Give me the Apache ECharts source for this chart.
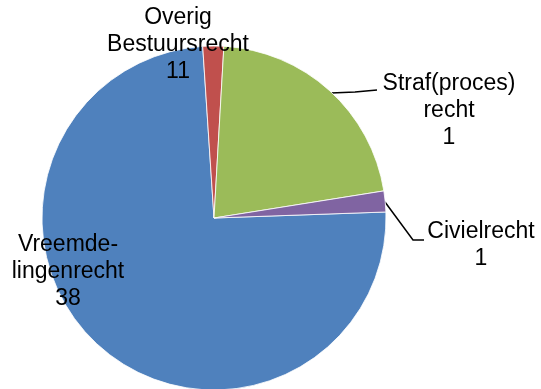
<!DOCTYPE html>
<html>
<head>
<meta charset="utf-8">
<script src="https://cdn.jsdelivr.net/npm/echarts@6/dist/echarts.min.js"></script>
<style>
  html, body { margin: 0; padding: 0; background: #fff; }
  #chart { width: 541px; height: 389px; }
</style>
</head>
<body>
<div id="chart"></div>
<script>
// Cases per field of law
const categories = ['Vreemde-\nlingenrecht', 'Straf(proces)\nrecht', 'Overig\nBestuursrecht', 'Civielrecht'];
const values = [38, 1, 11, 1];
const colors = ['#4F81BD', '#C0504D', '#9BBB59', '#8064A2'];

// Label placement: centre of each text block, and leader line points (px)
const labelPos = [[68, 272], [449, 111], [178, 45], [481, 245]];
const leaderLines = [null, [[331, 93], [355, 92], [377, 90]], null, [[385, 202], [413, 240], [424, 240]]];

const chart = echarts.init(document.getElementById('chart'), null, { renderer: 'canvas' });

const seriesData = categories.map((name, i) => ({
  name: name,
  value: values[i],
  itemStyle: { color: colors[i] },
  labelLine: { show: !!leaderLines[i] }
}));

chart.setOption({
  animation: false,
  series: [{
    type: 'pie',
    center: [214, 218],
    radius: 172,
    startAngle: 2,
    clockwise: true,
    avoidLabelOverlap: false,
    itemStyle: { borderColor: 'rgba(255,255,255,0.8)', borderWidth: 1 },
    label: {
      show: true,
      position: 'outside',
      formatter: '{b}\n{c}',
      fontFamily: '"Liberation Sans", Arial, sans-serif',
      fontSize: 23,
      lineHeight: 27,
      color: '#000',
      align: 'center'
    },
    labelLine: {
      show: true,
      lineStyle: { color: '#000', width: 1.5 }
    },
    labelLayout: function (params) {
      const i = params.dataIndex;
      const o = { x: labelPos[i][0], y: labelPos[i][1], align: 'center', verticalAlign: 'middle' };
      if (leaderLines[i]) o.labelLinePoints = leaderLines[i];
      return o;
    },
    emphasis: { disabled: true },
    data: seriesData
  }]
});
</script>
</body>
</html>
